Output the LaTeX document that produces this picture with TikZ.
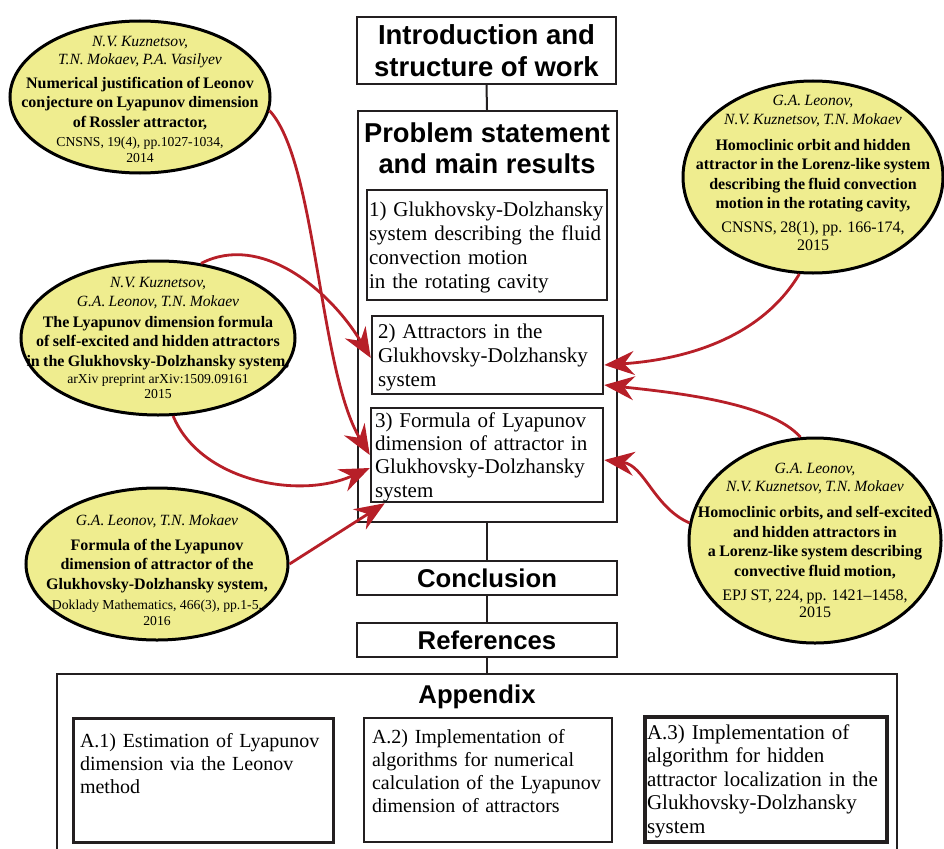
\documentclass[tikz,border=0pt]{standalone}
\usepackage{fontspec}
\setmainfont{Liberation Serif}
\setsansfont{Liberation Sans}
\usetikzlibrary{shapes.geometric,arrows.meta,calc}

\definecolor{citered}{RGB}{183,31,40}
\definecolor{paleyellow}{RGB}{239,237,143}
\definecolor{ink}{RGB}{35,31,32}

\newcommand{\refauth}[1]{{\fontsize{15.6pt}{18.5pt}\selectfont\itshape #1\par}}
\newcommand{\reftitle}[1]{{\fontsize{16pt}{19.5pt}\selectfont\bfseries #1\par}}
\newcommand{\refsrc}[1]{{\fontsize{13.7pt}{15.5pt}\selectfont #1\par}}
\newcommand{\refsrcbig}[1]{{\fontsize{16pt}{17.5pt}\selectfont #1\par}}

\tikzset{
	head/.style={draw=ink, line width=2pt, inner sep=0pt, align=center,
		font=\fontsize{27.5pt}{32pt}\selectfont\sffamily\bfseries},
	headtext/.style={inner sep=0pt, align=center,
		font=\fontsize{27.3pt}{31pt}\selectfont\sffamily\bfseries},
	frame/.style={draw=ink, line width=2pt, inner sep=0pt},
	part/.style={draw=ink, inner ysep=0pt, align=left,
		font=\fontsize{21pt}{24.2pt}\selectfont},
	apx/.style={draw=ink, line width=3pt, inner ysep=0pt, align=left,
		font=\fontsize{20pt}{23.3pt}\selectfont},
	paper/.style={ellipse, draw=black, line width=3pt, fill=paleyellow, inner sep=0pt},
	paperbody/.style={inner sep=0pt, align=center, text width=285pt,
		execute at begin node={\setlength{\parskip}{#1}}},
	link/.style={draw=ink, line width=2pt},
	cite/.style={draw=citered, line width=2.8pt,
		-{Stealth[length=30pt,width=24pt,inset=10pt]}}
}

\begin{document}
\begin{tikzpicture}[x=1pt,y=-1pt]
	\useasboundingbox (0,0) rectangle (944,848);
	\clip (0,0) rectangle (944,848);

	% main column
	\node[head, minimum width=259pt, minimum height=67pt] (intro) at (486.5,50.5) {Introduction and\\structure of work};
	\node[frame, minimum width=259pt, minimum height=411pt] (prob) at (487,316.5) {};
	\node[headtext] (probtitle) at (487,148) {Problem statement\\and main results};
	\node[part, line width=2pt, text width=236pt, inner xsep=2pt, text height=26pt, text depth=84pt] (gd1) at (487,245)
		{1) Glukhovsky-Dolzhansky\\system describing the fluid\\convection motion\\in the rotating cavity};
	\node[part, line width=2.5pt, text width=219pt, inner xsep=6pt, text height=22pt, text depth=56pt] (gd2) at (487.5,355)
		{2) Attractors in the\\Glukhovsky-Dolzhansky\\system};
	\node[part, line width=2.5pt, text width=224pt, inner xsep=4pt, text height=19pt, text depth=75pt,
		font=\fontsize{21pt}{23.4pt}\selectfont] (gd3) at (487,455)
		{3) Formula of Lyapunov\\dimension of attractor in\\Glukhovsky-Dolzhansky\\system};
	\node[head, font=\fontsize{25.7pt}{30pt}\selectfont\sffamily\bfseries, minimum width=260pt, minimum height=34pt] (concl) at (487,578) {Conclusion};
	\node[head, font=\fontsize{25.7pt}{30pt}\selectfont\sffamily\bfseries, minimum width=260pt, minimum height=34pt] (refs) at (487,640) {References};

	% appendix
	\node[frame, minimum width=840pt, minimum height=190pt] (app) at (477,769) {};
	\node[headtext, font=\fontsize{25.7pt}{30pt}\selectfont\sffamily\bfseries] (apptitle) at (477,697) {Appendix};
	\node[apx, text width=246pt, inner xsep=7pt, text height=29pt, text depth=95pt] (apx1) at (203,780)
		{A.1) Estimation of Lyapunov\\dimension via the Leonov\\method};
	\node[apx, line width=2.5pt, text width=232pt, inner xsep=8pt, text height=25pt, text depth=99pt] (apx2) at (488,780)
		{A.2) Implementation of\\algorithms for numerical\\calculation of the Lyapunov\\dimension of attractors};
	\node[apx, line width=3.5pt, text width=238pt, inner xsep=2pt, text height=22pt, text depth=103pt,
		font=\fontsize{21pt}{23.5pt}\selectfont] (apx3) at (766,779.5)
		{A.3) Implementation of\\algorithm for hidden\\attractor localization in the\\Glukhovsky-Dolzhansky\\system};

	\draw[link] (intro.south) -- (prob.north);
	\draw[link] (prob.south) -- (concl.north);
	\draw[link] (concl.south) -- (refs.north);
	\draw[link] (refs.south) -- (refs.south |- app.north);

	% papers
	\node[paper, minimum width=260pt, minimum height=152pt] (cnsns14) at (140,97) {};
	\node[paperbody=4pt] (cnsns14-txt) at ($(cnsns14)+(0,2)$) {%
		\refauth{N.V. Kuznetsov,\\T.N. Mokaev, P.A. Vasilyev}
		\reftitle{Numerical justification of Leonov\\conjecture on Lyapunov dimension\\of Rossler attractor,}
		\refsrc{CNSNS, 19(4), pp.1027-1034,\\2014}};

	\node[paper, minimum width=274pt, minimum height=154pt] (arxiv15) at (158,338) {};
	\node[paperbody=1.5pt] (arxiv15-txt) at (arxiv15) {%
		\refauth{N.V. Kuznetsov,\\G.A. Leonov, T.N. Mokaev}
		\reftitle{The Lyapunov dimension formula\\of self-excited and hidden attractors\\in the Glukhovsky-Dolzhansky system,}
		\refsrc{arXiv preprint arXiv:1509.09161\\2015}};

	\node[paper, minimum width=262pt, minimum height=152pt] (doklady16) at (157,564) {};
	\node[paperbody=5pt] (doklady16-txt) at ($(doklady16)+(0,6)$) {%
		\refauth{G.A. Leonov, T.N. Mokaev}
		\reftitle{Formula of the Lyapunov\\dimension of attractor of the\\Glukhovsky-Dolzhansky system,}
		\refsrc{Doklady Mathematics, 466(3), pp.1-5,\\2016}};

	\node[paper, minimum width=260pt, minimum height=192pt] (cnsns15) at (813,177) {};
	\node[paperbody=6.5pt] (cnsns15-txt) at ($(cnsns15)+(0,-4)$) {%
		\refauth{G.A. Leonov,\\N.V. Kuznetsov, T.N. Mokaev}
		\reftitle{Homoclinic orbit and hidden\\attractor in the Lorenz-like system\\describing the fluid convection\\motion in the rotating cavity,}
		\refsrcbig{CNSNS, 28(1), pp. 166-174,\\2015}};

	\node[paper, minimum width=252pt, minimum height=205pt] (epjst15) at (815,540.5) {};
	\node[paperbody=6.5pt] (epjst15-txt) at (epjst15) {%
		\refauth{G.A. Leonov,\\N.V. Kuznetsov, T.N. Mokaev}
		\reftitle{Homoclinic orbits, and self-excited\\and hidden attractors in\\a Lorenz-like system describing\\convective fluid motion,}
		\refsrcbig{EPJ ST, 224, pp. 1421--1458,\\2015}};

	% citations
	\draw[cite] (cnsns14.-6) .. controls +(47,50) and +(-51,-85) .. (gd3.west);
	\draw[cite] (arxiv15.60) .. controls +(60,-31) and +(-41,-68) .. ($(gd2.west)+(0,3)$);
	\draw[cite] (arxiv15.-79) .. controls +(27,65) and +(-71,32) .. ($(gd3.west)+(0,13)$);
	\draw[cite] (doklady16.east) -- ($(gd3.south west)+(15,0)$);
	\draw[cite] (cnsns15.-98) .. controls +(-40,67) and +(75,-5) .. ($(gd2.east)+(0,10)$);
	\draw[cite] (epjst15.98) .. controls +(-30,-34) and +(75,8) .. ($(gd2.east)+(0,30)$);
	\draw[cite] (epjst15.172) .. controls +(-35,-15) and +(40,5) .. ($(gd3.east)+(0,5)$);
\end{tikzpicture}
\end{document}
